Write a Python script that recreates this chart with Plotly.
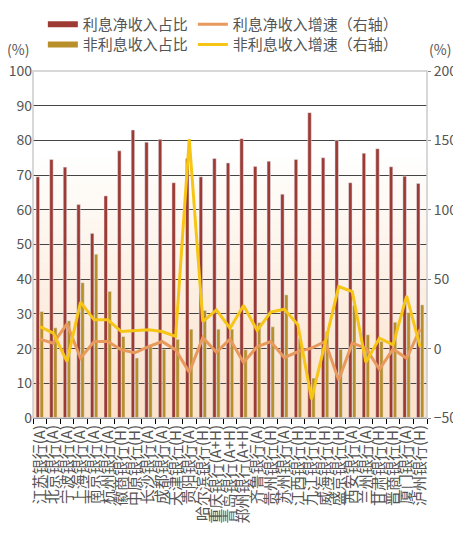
import plotly.graph_objects as go

banks = ["江苏银行(A)", "北京银行(A)", "宁波银行(A)", "上海银行(A)", "南京银行(A)",
         "杭州银行(A)", "徽商银行(H)", "中原银行(H)", "长沙银行(A)", "成都银行(A)",
         "天津银行(H)", "贵阳银行(A)", "哈尔滨银行(H)", "重庆银行(A+H)", "青岛银行(A+H)",
         "郑州银行(A+H)", "齐鲁银行(A)", "贵州银行(H)", "苏州银行(A)", "江西银行(H)",
         "九江银行(H)", "威海银行(H)", "盛京银行(H)", "西安银行(A)", "兰州银行(A)",
         "甘肃银行(H)", "晋商银行(H)", "厦门银行(A)", "泸州银行(H)"]

# 占比 (left axis, %)
net_interest_share = [69.5, 74.5, 72.3, 61.5, 53.2, 64.0, 77.0, 83.0, 79.5, 80.3,
                      67.8, 74.8, 69.5, 74.8, 73.5, 80.5, 72.5, 74.0, 64.5, 74.5,
                      88.0, 75.0, 80.0, 67.8, 76.3, 77.6, 72.4, 69.7, 67.6]
non_interest_share = [30.7, 26.0, 28.0, 39.0, 47.2, 36.5, 23.5, 17.3, 20.8, 19.8,
                      22.7, 25.6, 31.0, 25.6, 25.6, 19.7, 27.5, 26.3, 35.5, 23.0,
                      11.5, 24.9, 19.8, 32.5, 24.0, 22.1, 27.6, 30.4, 32.6]

# 增速 (right axis, %)
net_interest_growth = [6.8, 3.9, 17.8, -6.9, 5.1, 5.1, -0.9, -3.0, 1.4, 5.1,
                       -0.9, -17.0, 7.9, -2.6, 6.8, -10.0, 1.4, 5.1, -6.5, -2.2,
                       0.3, 5.1, -22.6, 3.9, 0.3, -14.9, -0.4, -6.9, 14.0]
non_interest_growth = [15.9, 11.1, -9.4, 33.5, 20.7, 20.7, 12.3, 13.0, 13.5, 12.3,
                       8.7, 151.0, 19.5, 27.9, 14.7, 31.0, 13.0, 26.3, 28.4, 17.1,
                       -36.5, 3.9, 44.7, 41.1, -9.8, 7.5, 2.7, 38.0, 1.0]

RED = "#9c3a33"
GOLD = "#b88f2a"
ORANGE = "#e8995c"
YELLOW = "#f6c516"
TXT = "#555555"
FONT = "Noto Sans CJK SC"

fig = go.Figure()

fig.add_trace(go.Bar(x=banks, y=net_interest_share, marker_color=RED,
                     showlegend=False, hoverinfo="none"))
fig.add_trace(go.Bar(x=banks, y=non_interest_share, marker_color=GOLD,
                     showlegend=False, hoverinfo="none"))

# legend entries drawn as thick lines, like the original (two legends = two rows)
fig.add_trace(go.Scatter(x=[None], y=[None], mode="lines", name="利息净收入占比",
                         line=dict(color=RED, width=6), legend="legend"))
fig.add_trace(go.Scatter(x=banks, y=net_interest_growth, mode="lines", yaxis="y2",
                         name="利息净收入增速（右轴）", line=dict(color=ORANGE, width=3),
                         legend="legend"))
fig.add_trace(go.Scatter(x=[None], y=[None], mode="lines", name="非利息收入占比",
                         line=dict(color=GOLD, width=6), legend="legend2"))
fig.add_trace(go.Scatter(x=banks, y=non_interest_growth, mode="lines", yaxis="y2",
                         name="非利息收入增速（右轴）", line=dict(color=YELLOW, width=3),
                         legend="legend2"))

# soft peach gradient towards the bottom of the plot area
shapes = []
n = 40
for i in range(n):
    t = i / n
    k = max(0.0, 1 - t / 0.75)
    r = int(255 - (255 - 251) * k)
    g = int(255 - (255 - 226) * k)
    b = int(255 - (255 - 202) * k)
    shapes.append(dict(type="rect", xref="paper", yref="paper",
                       x0=0, x1=1, y0=t, y1=t + 1 / n + 0.002,
                       fillcolor=f"rgb({r},{g},{b})", line_width=0, layer="below"))
shapes.append(dict(type="rect", xref="paper", yref="paper", x0=0, x1=1, y0=0, y1=1,
                   line=dict(color="#cccccc", width=1.5), layer="above"))

legend_style = dict(orientation="h", x=0.025, xanchor="left", yanchor="top",
                    yref="container", font=dict(size=15, color=TXT),
                    bgcolor="rgba(0,0,0,0)", itemwidth=30)

# the page body adds an 8px offset, so the figure is 8px smaller than the window
fig.update_layout(
    width=453, height=534,
    margin=dict(l=25, r=34, t=63, b=124),
    paper_bgcolor="white", plot_bgcolor="white",
    font=dict(family=FONT, size=14, color=TXT),
    barmode="group", bargap=0.42, bargroupgap=0.12,
    shapes=shapes,
    legend=dict(legend_style, y=1.0),
    legend2=dict(legend_style, y=0.962),
    xaxis=dict(tickangle=-90, tickfont=dict(size=15), tickmode="linear", dtick=1,
               ticks="outside", ticklen=5, automargin=False,
               tickcolor="black", tickson="boundaries", showline=True,
               linecolor="black", linewidth=1, showgrid=False, fixedrange=True),
    yaxis=dict(range=[0, 100], dtick=10, showgrid=True, gridcolor="#444444",
               gridwidth=1, zeroline=False, showline=False, ticks="", automargin=False),
    yaxis2=dict(range=[-50, 200], dtick=50, overlaying="y", side="right",
                showgrid=False, zeroline=False, showline=False, automargin=False,
                ticks="outside", ticklen=3, tickcolor="#888888"),
    annotations=[
        dict(text="(%)", xref="paper", yref="paper", x=0, y=1, xanchor="right",
             yanchor="bottom", xshift=-2, yshift=10, showarrow=False,
             font=dict(size=14, color=TXT)),
        dict(text="(%)", xref="paper", yref="paper", x=1, y=1, xanchor="left",
             yanchor="bottom", xshift=0, yshift=10, showarrow=False,
             font=dict(size=14, color=TXT)),
    ],
)

fig.write_html("out.html")
